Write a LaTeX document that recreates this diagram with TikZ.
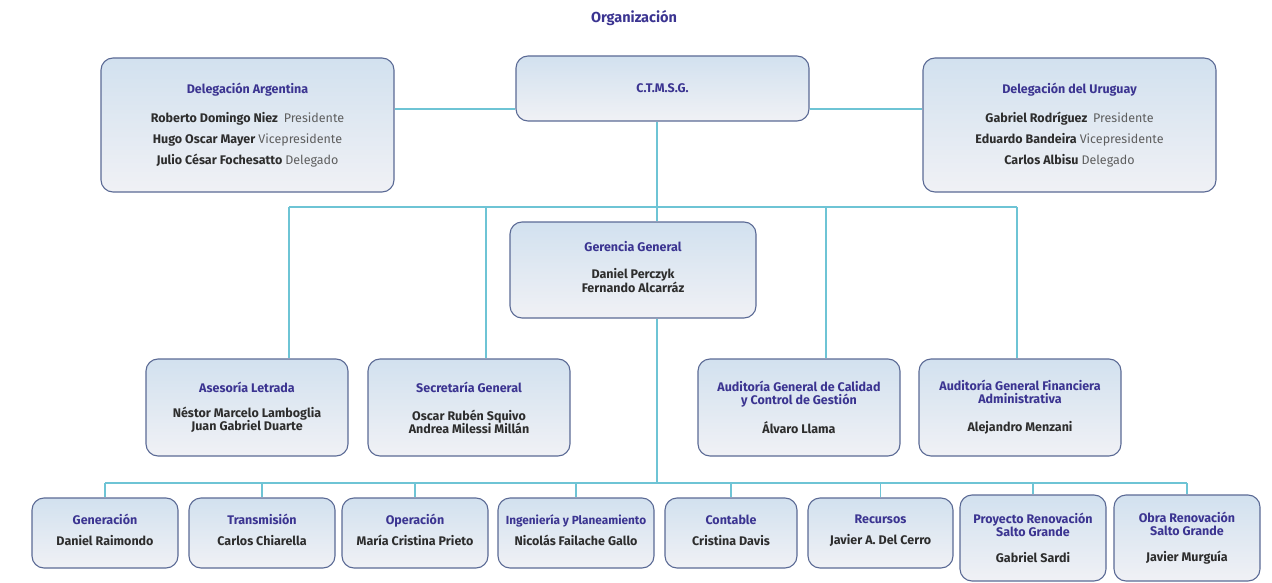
\documentclass[tikz,border=0pt]{standalone}
\usepackage{fontspec}
\setmainfont{Fira Sans}
\usetikzlibrary{positioning}
\usepackage{xcolor}

\definecolor{titleblue}{HTML}{3B3491}
\definecolor{boxedge}{HTML}{5B6A95}
\definecolor{boxtop}{HTML}{D2E1EF}
\definecolor{boxbot}{HTML}{F0F1F5}
\definecolor{linkcyan}{HTML}{6EC4D5}
\definecolor{nametext}{HTML}{2D2D2D}
\definecolor{roletext}{HTML}{5E5E5E}

\begin{document}
\begin{tikzpicture}[x=1pt, y=-1pt]
        % ================= styles =================
        \tikzset{
            % rounded box, blue-to-white shading
            orgbox/.style={draw=boxedge, line width=1.1pt, rounded corners=12pt,
                top color=boxtop, bottom color=boxbot, align=center, inner sep=0pt,
                text=nametext, font=\bfseries\fontsize{12.5}{14}\selectfont},
            % connector lines
            link/.style={draw=linkcyan, line width=1.1pt}
        }
        \newcommand{\unit}[1]{\textcolor{titleblue}{#1}}
        \newcommand{\cargo}[1]{{\mdseries\color{roletext}#1}}
        \newcommand{\lift}{\rule[-6pt]{0pt}{0pt}} % nudges text a little upwards

        \useasboundingbox (0,0) rectangle (1272,583);

        \node[font=\bfseries\fontsize{14.5}{16}\selectfont, text=titleblue] (titulo) at (634,18) {Organización};

        % ================= top level =================
        \node[orgbox, minimum width=293pt, minimum height=134pt] (arg) at (247.5,125)
            {\unit{Delegación Argentina}\\[15pt]
             Roberto Domingo Niez\ \ \cargo{Presidente}\\[7pt]
             Hugo Oscar Mayer \cargo{Vicepresidente}\\[7pt]
             Julio César Fochesatto \cargo{Delegado}};
        \node[orgbox, minimum width=293pt, minimum height=65pt] (ctm) at (662.5,88.5) {\unit{C.T.M.S.G.}};
        \node[orgbox, minimum width=293pt, minimum height=134pt] (uru) at (1069.5,125)
            {\unit{Delegación del Uruguay}\\[15pt]
             Gabriel Rodríguez\ \ \cargo{Presidente}\\[7pt]
             Eduardo Bandeira \cargo{Vicepresidente}\\[7pt]
             Carlos Albisu \cargo{Delegado}};

        \node[orgbox, minimum width=246pt, minimum height=96pt] (ger) at (633,270)
            {\unit{Gerencia General}\\[13pt] Daniel Perczyk\\ Fernando Alcarráz\lift};

        % ================= middle row =================
        \node[orgbox, minimum width=202pt, minimum height=97pt] (ase) at (247,407.5)
            {\unit{Asesoría Letrada}\\[11pt] Néstor Marcelo Lamboglia\\[-1pt] Juan Gabriel Duarte};
        \node[orgbox, minimum width=202pt, minimum height=97pt] (sec) at (469,407.5)
            {\unit{Secretaría General}\\[14pt] Oscar Rubén Squivo\\[-1pt] Andrea Milessi Millán};
        \node[orgbox, minimum width=202pt, minimum height=97pt] (aud) at (799,407.5)
            {\unit{Auditoría General de Calidad}\\[-1pt] \unit{y Control de Gestión}\\[14pt] Álvaro Llama};
        \node[orgbox, minimum width=202pt, minimum height=97pt] (afi) at (1020,407.5)
            {\unit{Auditoría General Financiera}\\[-1pt] \unit{Administrativa}\\[14pt] Alejandro Menzani};

        % ================= bottom row =================
        \foreach \nd/\xx/\ww/\area/\jefe in {
                gen/105/146/Generación/Daniel Raimondo,
                tra/262/146/Transmisión/Carlos Chiarella,
                ope/415/146/Operación/María Cristina Prieto,
                ing/576/156/{\fontsize{11.8}{14}\selectfont Ingeniería y Planeamiento}/Nicolás Failache Gallo,
                con/731/132/Contable/Cristina Davis,
                rec/880.5/145/Recursos/Javier A. Del Cerro} {
            \node[orgbox, minimum width=\ww pt, minimum height=70pt] (\nd) at (\xx,533)
                {\unit{\area}\\[7pt] \jefe\lift};
        }
        \node[orgbox, minimum width=146pt, minimum height=86pt] (pro) at (1033,538)
            {\unit{Proyecto Renovación}\\[-1pt] \unit{Salto Grande}\\[12pt] Gabriel Sardi};
        \node[orgbox, minimum width=146pt, minimum height=86pt] (obr) at (1187,538)
            {\unit{Obra Renovación}\\[-1pt] \unit{Salto Grande}\\[12pt] Javier Murguía};

        % ================= connectors =================
        \coordinate (toprail) at (0,109);
        \coordinate (trunk) at (657,0);
        \draw[link] (arg.east |- toprail) -- (ctm.west |- toprail);
        \draw[link] (ctm.east |- toprail) -- (uru.west |- toprail);
        \draw[link] (ctm.south -| trunk) -- (ger.north -| trunk);

        % rail above the middle row
        \coordinate (tap-ase) at (289,207);
        \coordinate (tap-sec) at (486,207);
        \coordinate (tap-aud) at (826,207);
        \coordinate (tap-afi) at (1017,207);
        \draw[link] (tap-ase) -- (tap-afi);
        \foreach \nd in {ase,sec,aud,afi}
            \draw[link] (tap-\nd) -- (\nd.north -| tap-\nd);

        % rail above the bottom row
        \coordinate (botrail) at (0,483);
        \draw[link] (ger.south -| trunk) -- (botrail -| trunk);
        \draw[link] (gen.north |- botrail) -- (obr.north |- botrail);
        \foreach \nd in {gen,tra,ope,ing,con,rec,pro,obr}
            \draw[link] (\nd.north |- botrail) -- (\nd.north);

\end{tikzpicture}
\end{document}
